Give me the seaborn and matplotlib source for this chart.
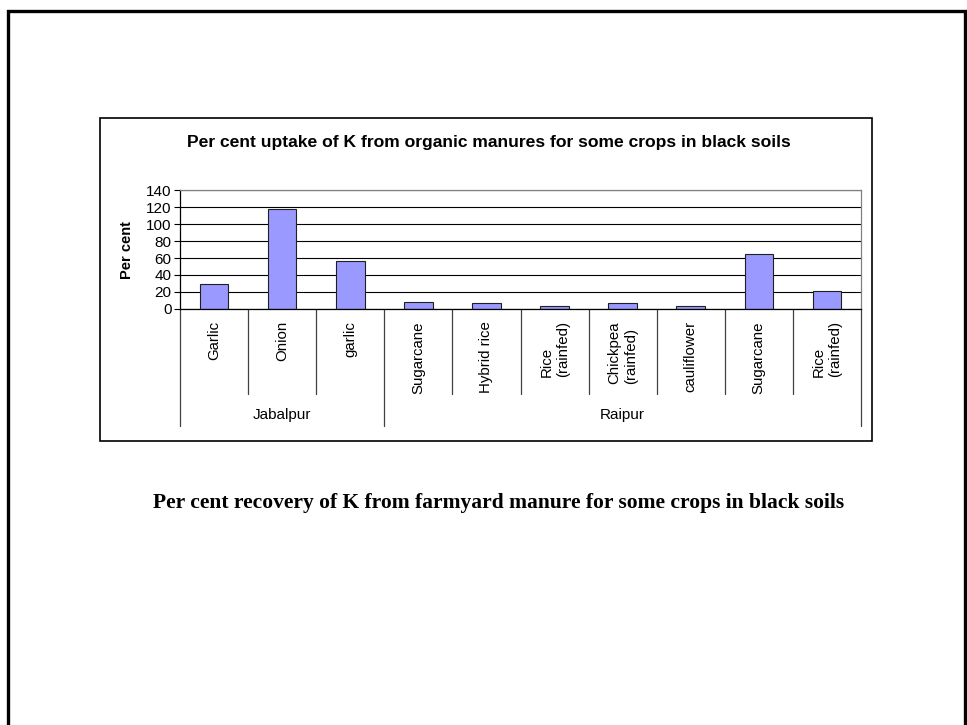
import matplotlib
matplotlib.use("Agg")
import matplotlib.pyplot as plt
import matplotlib.transforms as mtransforms
from matplotlib.patches import Rectangle
import seaborn as sns
import pandas as pd

# Data
sites = ["Jabalpur", "Raipur"]
site_counts = [3, 7]
crops = ["Garlic", "Onion", "garlic", "Sugarcane", "Hybrid rice",
         "Rice\n(rainfed)", "Chickpea\n(rainfed)", "cauliflower",
         "Sugarcane", "Rice\n(rainfed)"]
uptake = [29, 118, 57, 8.5, 7, 3, 7, 3, 65, 21]
y_ticks = [0, 20, 40, 60, 80, 100, 120, 140]

title = "Per cent uptake of K from organic manures for some crops in black soils"
caption = "Per cent recovery of K from farmyard manure for some crops in black soils"

sns.set_theme(style="white")
plt.rcParams["font.family"] = ["Liberation Sans", "DejaVu Sans"]
plt.rcParams["text.color"] = "black"
plt.rcParams["axes.labelcolor"] = "black"
plt.rcParams["xtick.color"] = "black"
plt.rcParams["ytick.color"] = "black"

W, H = 967, 725
fig = plt.figure(figsize=(W / 100, H / 100), dpi=100)
fig.patch.set_facecolor("white")


def fx(px):
    return px / W


def fy(py):
    return 1 - py / H


# Slide frame and chart frame
fig.add_artist(Rectangle((fx(8), fy(740)), fx(965) - fx(8), fy(11) - fy(740),
                         transform=fig.transFigure, fill=False,
                         edgecolor="black", linewidth=2.4))
fig.add_artist(Rectangle((fx(100), fy(441)), fx(872) - fx(100), fy(118) - fy(441),
                         transform=fig.transFigure, fill=False,
                         edgecolor="black", linewidth=1.2))

ax = fig.add_axes([fx(180), fy(309), fx(861) - fx(180), fy(190) - fy(309)])

df = pd.DataFrame({"slot": list(range(len(crops))), "uptake": uptake})
sns.barplot(data=df, x="slot", y="uptake", ax=ax, color="#9999FF",
            saturation=1, width=0.42, edgecolor="#202020", linewidth=0.8)

ax.set_xlim(-0.5, len(crops) - 0.5)
ax.set_ylim(0, 140)
ax.set_yticks(y_ticks)
ax.set_yticklabels([str(v) for v in y_ticks], fontsize=11)
ax.set_xticks([])
ax.set_xlabel("")
ax.set_ylabel("")
ax.yaxis.grid(True, color="black", linewidth=0.8)
ax.set_axisbelow(True)
ax.tick_params(axis="y", direction="out", length=4, width=0.8,
               color="black", pad=2, left=True)
for side in ("left", "bottom"):
    ax.spines[side].set_color("black")
    ax.spines[side].set_linewidth(0.9)
for side in ("top", "right"):
    ax.spines[side].set_color("#808080")
    ax.spines[side].set_linewidth(0.9)

# Category axis: labels, separators and site groups below the plot
trans = mtransforms.blended_transform_factory(ax.transData, fig.transFigure)
for i, name in enumerate(crops):
    ax.text(i, fy(321), name, transform=trans, rotation=90, ha="center",
            va="top", multialignment="left", fontsize=10.8, clip_on=False)

group_edges = [-0.5]
for n in site_counts:
    group_edges.append(group_edges[-1] + n)
for k in range(len(crops) + 1):
    xe = k - 0.5
    bottom = 426 if xe in group_edges else 394
    ax.plot([xe, xe], [fy(309), fy(bottom)], transform=trans,
            color="#404040", linewidth=0.9, clip_on=False)

for s, name in enumerate(sites):
    center = (group_edges[s] + group_edges[s + 1]) / 2
    ax.text(center, fy(415), name, transform=trans, ha="center",
            va="center", fontsize=11, clip_on=False)

fig.text(fx(127), fy(250), "Per cent", rotation=90, ha="center", va="center",
         fontsize=10.5, fontweight="bold")
fig.text(fx(489), fy(142), title, ha="center", va="center",
         fontsize=12.6, fontweight="bold")
fig.text(fx(499), fy(503), caption, ha="center", va="center",
         fontsize=15.5, fontweight="bold",
         family=["Liberation Serif", "DejaVu Serif"])

fig.savefig("out.png", dpi=100, facecolor="white")
